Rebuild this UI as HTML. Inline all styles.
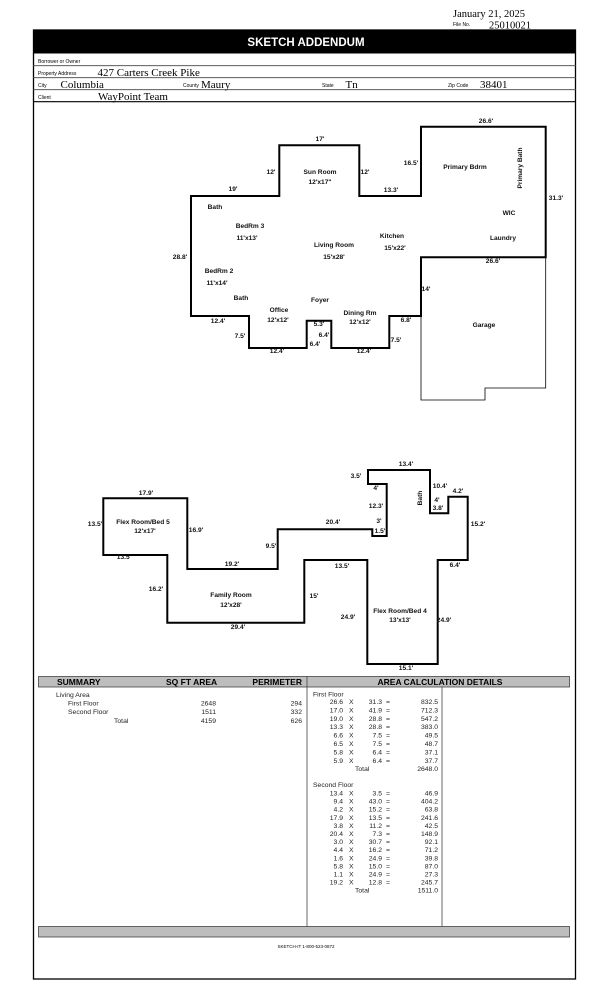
<!DOCTYPE html>
<html><head><meta charset="utf-8"><style>
html,body{margin:0;padding:0;background:#fff;}
svg{display:block;}
.s{font-family:"Liberation Serif",serif;}
.a{font-family:"Liberation Sans",sans-serif;}
.l{font-family:"Liberation Sans",sans-serif;font-size:6.6px;font-weight:bold;fill:#111;text-anchor:middle;}
.t{font-family:"Liberation Sans",sans-serif;font-size:6.8px;fill:#222;}
</style></head><body>
<svg width="612" height="1008" viewBox="0 0 612 1008" xmlns="http://www.w3.org/2000/svg">
<rect width="612" height="1008" fill="#fff"/>
<text x="453" y="17" class="s" font-size="10.5">January 21, 2025</text>
<text x="453" y="26" class="a" font-size="5">File No.</text>
<text x="489" y="28.5" class="s" font-size="10.5">25010021</text>
<rect x="33" y="29.5" width="543" height="24" fill="#000"/>
<text x="306" y="46" class="a" font-size="11.5" font-weight="bold" fill="#fff" text-anchor="middle">SKETCH ADDENDUM</text>
<rect x="33.5" y="30" width="542" height="949" fill="none" stroke="#000" stroke-width="1.3"/>
<g stroke="#444" stroke-width="0.8">
<line x1="33" y1="65.7" x2="576" y2="65.7"/>
<line x1="33" y1="77.7" x2="576" y2="77.7"/>
<line x1="33" y1="89.7" x2="576" y2="89.7"/>
</g>
<line x1="33" y1="101.7" x2="576" y2="101.7" stroke="#000" stroke-width="1.1"/>
<g class="a" font-size="5">
<text x="38" y="63">Borrower or Owner</text>
<text x="38" y="75">Property Address</text>
<text x="38" y="87">City</text>
<text x="183" y="87">County</text>
<text x="322" y="87">State</text>
<text x="448" y="87">Zip Code</text>
<text x="38" y="99">Client</text>
</g>
<g class="s" font-size="11">
<text x="97.5" y="76">427 Carters Creek Pike</text>
<text x="60.5" y="88">Columbia</text>
<text x="201" y="88">Maury</text>
<text x="345.5" y="88">Tn</text>
<text x="480" y="88">38401</text>
<text x="98" y="100">WayPoint Team</text>
</g>

<!-- first floor -->
<polygon points="191,196 279.3,196 279.3,145.3 359.3,145.3 359.3,196 421,196 421,126.7 545.7,126.7 545.7,257.3 421,257.3 421,316 389.3,316 389.3,348 331.3,348 331.3,320.7 306.7,320.7 306.7,348 249,348 249,316 191,316" fill="none" stroke="#000" stroke-width="2"/>
<polyline points="421,257.3 421,400 485,400 485,388 545.7,388 545.7,257.3" fill="none" stroke="#000" stroke-width="0.8"/>
<g>
<text class="l" x="486" y="123">26.6'</text>
<text class="l" x="320" y="141">17'</text>
<text class="l" x="271" y="174">12'</text>
<text class="l" x="365" y="174">12'</text>
<text class="l" x="411" y="165">16.5'</text>
<text class="l" x="391" y="192">13.3'</text>
<text class="l" x="233" y="191">19'</text>
<text class="l" x="556" y="200">31.3'</text>
<text class="l" x="320" y="174">Sun Room</text>
<text class="l" x="320" y="184">12'x17"</text>
<text class="l" x="465" y="169">Primary Bdrm</text>
<text class="l" x="0" y="0" transform="translate(522,168) rotate(-90)">Primary Bath</text>
<text class="l" x="215" y="209">Bath</text>
<text class="l" x="250" y="228">BedRm 3</text>
<text class="l" x="247" y="240">11'x13'</text>
<text class="l" x="334" y="247">Living Room</text>
<text class="l" x="334" y="259">15'x28'</text>
<text class="l" x="392" y="238">Kitchen</text>
<text class="l" x="395" y="250">15'x22'</text>
<text class="l" x="509" y="215">WIC</text>
<text class="l" x="503" y="240">Laundry</text>
<text class="l" x="180" y="259">28.8'</text>
<text class="l" x="493" y="263">26.6'</text>
<text class="l" x="219" y="273">BedRm 2</text>
<text class="l" x="217" y="285">11'x14'</text>
<text class="l" x="426" y="291">14'</text>
<text class="l" x="241" y="300">Bath</text>
<text class="l" x="320" y="302">Foyer</text>
<text class="l" x="279" y="312">Office</text>
<text class="l" x="278" y="322">12'x12'</text>
<text class="l" x="360" y="315">Dining Rm</text>
<text class="l" x="360" y="324">12'x12'</text>
<text class="l" x="484" y="327">Garage</text>
<text class="l" x="218" y="323">12.4'</text>
<text class="l" x="319" y="326">5.3'</text>
<text class="l" x="406" y="322">6.8'</text>
<text class="l" x="240" y="338">7.5'</text>
<text class="l" x="324" y="337">6.4'</text>
<text class="l" x="315" y="346">6.4'</text>
<text class="l" x="396" y="342">7.5'</text>
<text class="l" x="277" y="353">12.4'</text>
<text class="l" x="364" y="353">12.4'</text>
</g>

<!-- second floor -->
<polygon points="103.3,498.3 187.3,498.3 187.3,569 277.7,569 277.7,529.3 372.3,529.3 372.3,536 386.7,536 386.7,484 368,484 368,470 430,470 430,513.3 448.3,513.3 448.3,496.7 467.7,496.7 467.7,560 437.7,560 437.7,664 367.3,664 367.3,560 304.3,560 304.3,622.7 167.3,622.7 167.3,555 103.3,555" fill="none" stroke="#000" stroke-width="2"/>
<g>
<text class="l" x="146" y="495">17.9'</text>
<text class="l" x="95" y="526">13.5'</text>
<text class="l" x="143" y="524">Flex Room/Bed 5</text>
<text class="l" x="145" y="533">12'x17'</text>
<text class="l" x="196" y="532">16.9'</text>
<text class="l" x="124" y="559">13.5'</text>
<text class="l" x="232" y="566">19.2'</text>
<text class="l" x="271" y="548">9.5'</text>
<text class="l" x="333" y="524">20.4'</text>
<text class="l" x="156" y="591">16.2'</text>
<text class="l" x="231" y="597">Family Room</text>
<text class="l" x="231" y="607">12'x28'</text>
<text class="l" x="314" y="598">15'</text>
<text class="l" x="238" y="629">29.4'</text>
<text class="l" x="342" y="568">13.5'</text>
<text class="l" x="348" y="619">24.9'</text>
<text class="l" x="400" y="613">Flex Room/Bed 4</text>
<text class="l" x="400" y="622">13'x13'</text>
<text class="l" x="444" y="622">24.9'</text>
<text class="l" x="406" y="670">15.1'</text>
<text class="l" x="406" y="466">13.4'</text>
<text class="l" x="356" y="478">3.5'</text>
<text class="l" x="376" y="490">4'</text>
<text class="l" x="376" y="508">12.3'</text>
<text class="l" x="379" y="523">3'</text>
<text class="l" x="380" y="533">1.5'</text>
<text class="l" x="0" y="0" transform="translate(422,498) rotate(-90)">Bath</text>
<text class="l" x="440" y="488">10.4'</text>
<text class="l" x="437" y="502">4'</text>
<text class="l" x="438" y="510">3.8'</text>
<text class="l" x="458" y="493">4.2'</text>
<text class="l" x="478" y="526">15.2'</text>
<text class="l" x="455" y="567">6.4'</text>
</g>

<!-- summary -->
<rect x="38.5" y="676.5" width="531" height="10.5" fill="#bdbdbd" stroke="#444" stroke-width="0.8"/>
<line x1="307" y1="676" x2="307" y2="927" stroke="#444" stroke-width="0.8"/>
<line x1="442" y1="687" x2="442" y2="927" stroke="#444" stroke-width="0.8"/>
<rect x="38.5" y="926.5" width="531" height="10.5" fill="#bdbdbd" stroke="#444" stroke-width="0.8"/>
<g class="a" font-size="8.5" font-weight="bold" fill="#000">
<text x="57" y="685">SUMMARY</text>
<text x="166" y="685">SQ FT AREA</text>
<text x="302" y="685" text-anchor="end">PERIMETER</text>
<text x="440" y="685" text-anchor="middle">AREA CALCULATION DETAILS</text>
</g>
<g class="t">
<text x="56" y="697">Living Area</text>
<text x="68" y="705.5">First Floor</text>
<text x="68" y="714">Second Floor</text>
<text x="114" y="723">Total</text>
<text x="216" y="705.5" text-anchor="end">2648</text>
<text x="216" y="714" text-anchor="end">1511</text>
<text x="216" y="723" text-anchor="end">4159</text>
<text x="302" y="705.5" text-anchor="end">294</text>
<text x="302" y="714" text-anchor="end">332</text>
<text x="302" y="723" text-anchor="end">626</text>
<text x="313" y="696.5">First Floor</text>
<text x="313" y="787">Second Floor</text>
</g>
<g class="t">
<g text-anchor="end">
<text x="343" y="704">26.6</text><text x="382" y="704">31.3</text><text x="438" y="704">832.5</text>
<text x="343" y="712.4">17.0</text><text x="382" y="712.4">41.9</text><text x="438" y="712.4">712.3</text>
<text x="343" y="720.8">19.0</text><text x="382" y="720.8">28.8</text><text x="438" y="720.8">547.2</text>
<text x="343" y="729.2">13.3</text><text x="382" y="729.2">28.8</text><text x="438" y="729.2">383.0</text>
<text x="343" y="737.6">6.6</text><text x="382" y="737.6">7.5</text><text x="438" y="737.6">49.5</text>
<text x="343" y="746">6.5</text><text x="382" y="746">7.5</text><text x="438" y="746">48.7</text>
<text x="343" y="754.4">5.8</text><text x="382" y="754.4">6.4</text><text x="438" y="754.4">37.1</text>
<text x="343" y="762.8">5.9</text><text x="382" y="762.8">6.4</text><text x="438" y="762.8">37.7</text>
<text x="438" y="771.2">2648.0</text>
</g>
<text x="355" y="771.2">Total</text>
<g><text x="349" y="704">X</text><text x="349" y="712.4">X</text><text x="349" y="720.8">X</text><text x="349" y="729.2">X</text><text x="349" y="737.6">X</text><text x="349" y="746">X</text><text x="349" y="754.4">X</text><text x="349" y="762.8">X</text>
<text x="386" y="704">=</text><text x="386" y="712.4">=</text><text x="386" y="720.8">=</text><text x="386" y="729.2">=</text><text x="386" y="737.6">=</text><text x="386" y="746">=</text><text x="386" y="754.4">=</text><text x="386" y="762.8">=</text></g>
</g>
<g class="t">
<g text-anchor="end">
<text x="343" y="795.5">13.4</text><text x="382" y="795.5">3.5</text><text x="438" y="795.5">46.9</text>
<text x="343" y="803.6">9.4</text><text x="382" y="803.6">43.0</text><text x="438" y="803.6">404.2</text>
<text x="343" y="811.7">4.2</text><text x="382" y="811.7">15.2</text><text x="438" y="811.7">63.8</text>
<text x="343" y="819.8">17.9</text><text x="382" y="819.8">13.5</text><text x="438" y="819.8">241.6</text>
<text x="343" y="827.9">3.8</text><text x="382" y="827.9">11.2</text><text x="438" y="827.9">42.5</text>
<text x="343" y="836">20.4</text><text x="382" y="836">7.3</text><text x="438" y="836">148.9</text>
<text x="343" y="844.1">3.0</text><text x="382" y="844.1">30.7</text><text x="438" y="844.1">92.1</text>
<text x="343" y="852.2">4.4</text><text x="382" y="852.2">16.2</text><text x="438" y="852.2">71.2</text>
<text x="343" y="860.3">1.6</text><text x="382" y="860.3">24.9</text><text x="438" y="860.3">39.8</text>
<text x="343" y="868.4">5.8</text><text x="382" y="868.4">15.0</text><text x="438" y="868.4">87.0</text>
<text x="343" y="876.5">1.1</text><text x="382" y="876.5">24.9</text><text x="438" y="876.5">27.3</text>
<text x="343" y="884.6">19.2</text><text x="382" y="884.6">12.8</text><text x="438" y="884.6">245.7</text>
<text x="438" y="892.7">1511.0</text>
</g>
<text x="355" y="892.7">Total</text>
<text x="349" y="795.5">X</text><text x="349" y="803.6">X</text><text x="349" y="811.7">X</text><text x="349" y="819.8">X</text><text x="349" y="827.9">X</text><text x="349" y="836">X</text><text x="349" y="844.1">X</text><text x="349" y="852.2">X</text><text x="349" y="860.3">X</text><text x="349" y="868.4">X</text><text x="349" y="876.5">X</text><text x="349" y="884.6">X</text>
<text x="386" y="795.5">=</text><text x="386" y="803.6">=</text><text x="386" y="811.7">=</text><text x="386" y="819.8">=</text><text x="386" y="827.9">=</text><text x="386" y="836">=</text><text x="386" y="844.1">=</text><text x="386" y="852.2">=</text><text x="386" y="860.3">=</text><text x="386" y="868.4">=</text><text x="386" y="876.5">=</text><text x="386" y="884.6">=</text>
</g>
<text x="306" y="948" class="a" font-size="4.5" text-anchor="middle">SKETCH-IT 1-800-523-0872</text>
</svg>
</body></html>
